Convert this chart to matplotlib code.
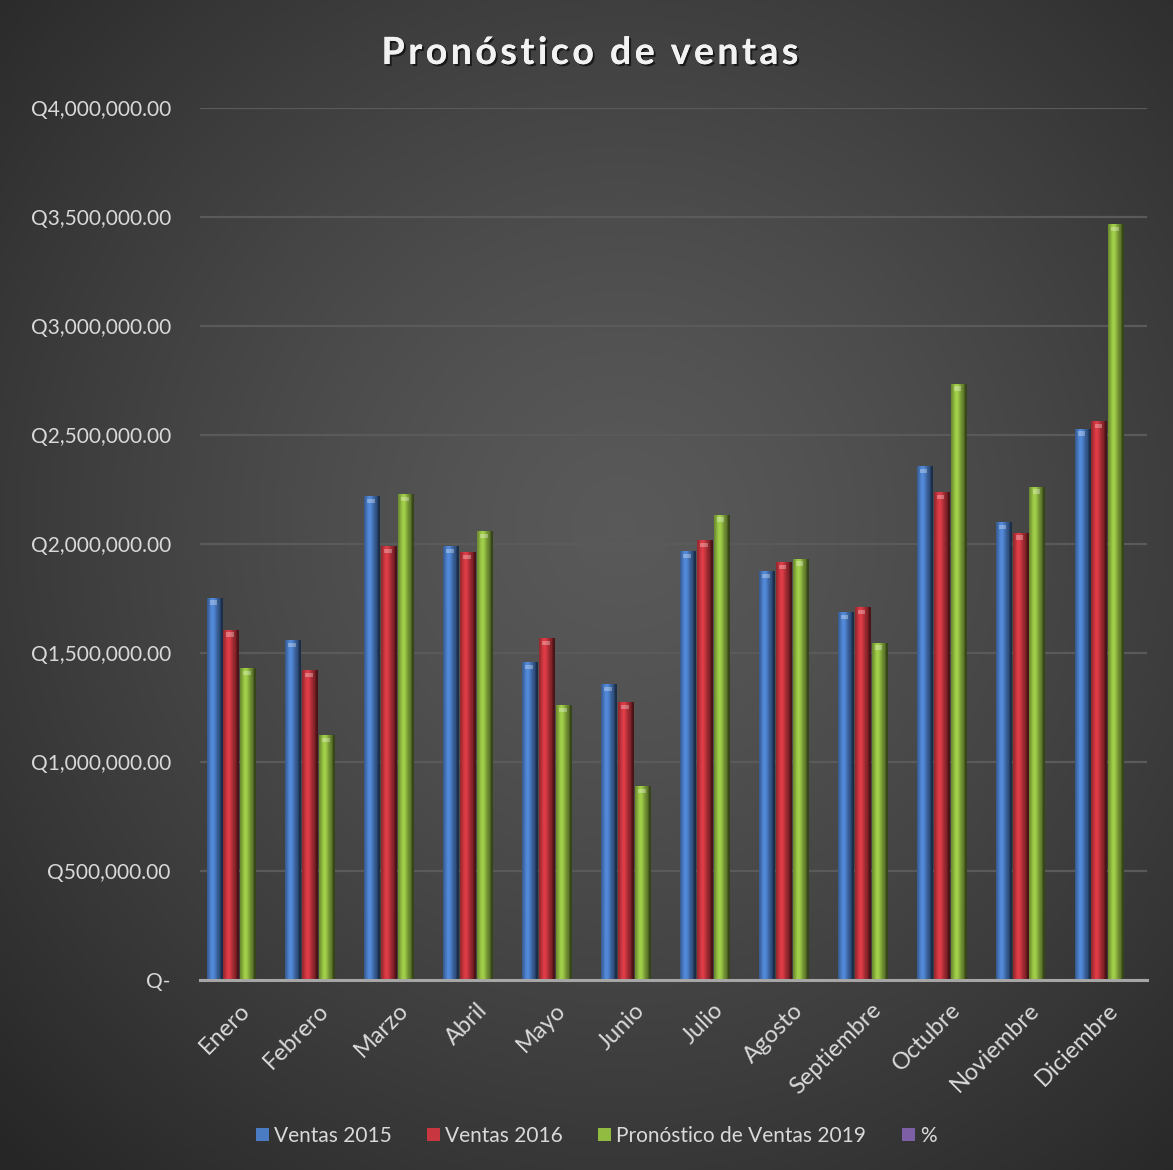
import numpy as np
import matplotlib
matplotlib.use("Agg")
import matplotlib.pyplot as plt
import matplotlib.patheffects as pe
from matplotlib.ticker import FuncFormatter
from matplotlib.colors import to_rgb

# ── datos ──────────────────────────────────────────────────
meses = ["Enero", "Febrero", "Marzo", "Abril", "Mayo", "Junio", "Julio",
         "Agosto", "Septiembre", "Octubre", "Noviembre", "Diciembre"]
ventas_2015 = [1753000, 1559000, 2220000, 1991000, 1459000, 1356000,
               1968000, 1876000, 1688000, 2358000, 2101000, 2529000]
ventas_2016 = [1607000, 1420000, 1991000, 1963000, 1569000, 1273000,
               2018000, 1917000, 1711000, 2239000, 2052000, 2564000]
pronostico_2019 = [1431000, 1124000, 2229000, 2060000, 1261000, 888000,
                   2135000, 1933000, 1547000, 2735000, 2263000, 3468000]
porcentaje = [0, 0, 0, 0, 0, 0, 0, 0, 0, 0, 0, 0]

series = ["Ventas 2015", "Ventas 2016", "Pronóstico de Ventas 2019", "%"]
colores = ["#4a7cc4", "#c8363f", "#92bb42", "#7d5fa6"]
titulo = "Pronóstico de ventas"

plt.rcParams["font.family"] = ["Lato", "DejaVu Sans"]

W, H = 1173, 1170
fig = plt.figure(figsize=(W / 100, H / 100), dpi=100)

# fondo con degradado radial
bg = fig.add_axes([0, 0, 1, 1], zorder=-10)
yy, xx = np.mgrid[0:1:400j, 0:1:400j]
r = np.sqrt(((xx - 0.53) / 0.75) ** 2 + ((yy - 0.55) / 0.75) ** 2)
r = np.clip(r, 0, 1)
val = 0.35 - 0.20 * r ** 1.3
bg.imshow(np.dstack([val, val, val]), extent=[0, 1, 0, 1], aspect="auto",
          origin="lower", interpolation="bicubic")
bg.set_axis_off()

ax = fig.add_axes([200 / W, 1 - 980 / H, 947 / W, 872 / H])
ax.set_facecolor("none")

x = np.arange(len(meses))
ancho = 0.214
datos = [ventas_2015, ventas_2016, pronostico_2019, porcentaje]

# perfil cilíndrico (oscuro - claro - oscuro)
t = np.linspace(0, 1, 64)
perfil = 0.62 + 0.5 * np.exp(-((t - 0.35) / 0.28) ** 2) - 0.25 * (t > 0.85)

for i, (vals, col) in enumerate(zip(datos, colores)):
    offs = (i - 1.5) * ancho
    barras = ax.bar(x + offs, vals, width=ancho * 0.9, color=col,
                    label=series[i], zorder=3, linewidth=0)
    base = np.array(to_rgb(col))
    img = np.clip(perfil[None, :, None] * base[None, None, :], 0, 1)
    for b in barras:
        h = b.get_height()
        if h <= 0:
            continue
        x0 = b.get_x()
        w = b.get_width()
        im = ax.imshow(img, extent=[x0, x0 + w, 0, h], aspect="auto",
                       zorder=4, interpolation="bicubic")
        im.set_clip_path(b)
        # brillo en la tapa
        ax.bar(x0 + w * 0.45, 20000, bottom=h - 32000, width=w * 0.5,
               color="white", alpha=0.3, zorder=5, linewidth=0)

ax.set_xlim(-0.5, len(meses) - 0.5)
ax.set_ylim(0, 4000000)
ax.set_yticks(np.arange(0, 4000001, 500000))
ax.yaxis.set_major_formatter(FuncFormatter(
    lambda v, p: "Q-" if v == 0 else f"Q{v:,.2f}"))
ax.grid(axis="y", color="#5a5a5a", linewidth=1.6, zorder=0)
ax.set_axisbelow(True)
for s in ["top", "right", "left"]:
    ax.spines[s].set_visible(False)
ax.spines["bottom"].set_color("#a6a6a6")
ax.spines["bottom"].set_linewidth(2.2)
ax.spines["bottom"].set_zorder(6)

ax.set_xticks(x)
ax.set_xticklabels(meses, rotation=45, ha="right", rotation_mode="anchor",
                   fontsize=17, color="#d9d9d9")
ax.tick_params(axis="x", length=0, pad=14)
ax.tick_params(axis="y", length=0, pad=21, labelsize=15, labelcolor="#d9d9d9")

# título con espaciado entre letras
renderer = fig.canvas.get_renderer()
props = dict(fontsize=27, fontweight="bold")
def ancho_px(s):
    tt = fig.text(0, 0, s, **props)
    w = tt.get_window_extent(renderer).width
    tt.remove()
    return w
base_w = ancho_px("aa")
anchos = [ancho_px("a" + c + "a") - base_w for c in titulo]
espacio = 3.5
total = sum(anchos) + espacio * (len(titulo) - 1)
xpos = 590 - total / 2
for c, w in zip(titulo, anchos):
    fig.text(xpos / W, 1 - 53 / H, c, ha="left", va="center", color="#f2f2f2",
             path_effects=[pe.withSimplePatchShadow(offset=(1.5, -1.5),
                                                     shadow_rgbFace="black",
                                                     alpha=0.6), pe.Normal()],
             **props)
    xpos += w + espacio

leg = ax.legend(loc="center", bbox_to_anchor=(596 / W, 1 - 1136 / H),
                bbox_transform=fig.transFigure, ncol=4, frameon=False,
                fontsize=15, handlelength=0.62, handleheight=0.62,
                handletextpad=0.25, columnspacing=1.7)
for txt in leg.get_texts():
    txt.set_color("#d9d9d9")

fig.savefig("out.png", dpi=100)
